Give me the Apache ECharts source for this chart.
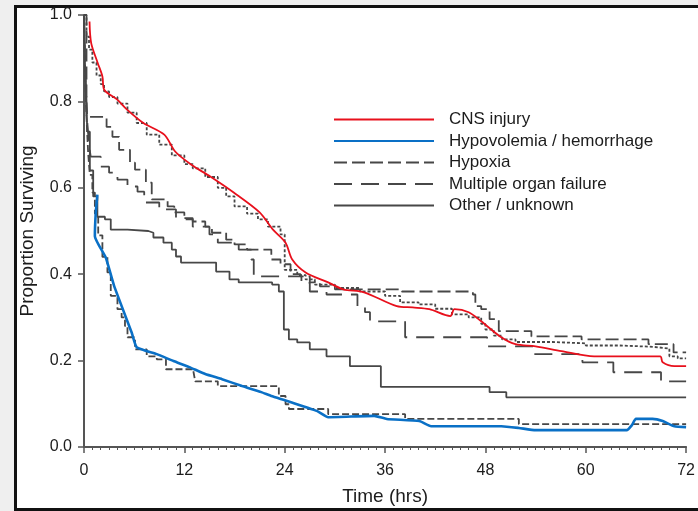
<!DOCTYPE html>
<html>
<head>
<meta charset="utf-8">
<script src="https://cdn.jsdelivr.net/npm/echarts@6/dist/echarts.min.js"></script>
<style>
html, body { margin: 0; padding: 0; background: #efefef; width: 698px; height: 511px; overflow: hidden; }
#frame { position: absolute; left: 14px; top: 5px; width: 720px; height: 500px; border: 3px solid #111; background: #fff; }
#chart { position: absolute; left: 0; top: 0; width: 698px; height: 511px; }
</style>
</head>
<body>
<div id="frame"></div>
<div id="chart"></div>
<script>
// Kaplan-Meier curves: [hours, proportion surviving]
const cnsInjury = [
  [0, 1], [0.3, 0.95], [0.6, 0.92], [1, 0.89], [1.5, 0.86], [2, 0.84], [2.4, 0.823], [3, 0.81],
  [4, 0.795], [5.2, 0.774], [6.3, 0.75], [7.5, 0.723], [9, 0.7], [10.5, 0.675], [12, 0.655],
  [13, 0.645], [14.5, 0.625], [16, 0.6], [17, 0.58], [18, 0.557], [19.5, 0.54], [20.8, 0.527],
  [22, 0.51], [23.5, 0.492], [24, 0.41], [25.5, 0.398], [26.5, 0.388], [27.6, 0.376], [30, 0.368],
  [33, 0.36], [36, 0.35], [37.8, 0.335], [40, 0.33], [42, 0.32], [44, 0.307], [46, 0.3],
  [47.5, 0.285], [48, 0.272], [49, 0.258], [50, 0.249], [51.6, 0.243], [56, 0.24], [60, 0.235],
  [64, 0.232], [68, 0.228], [70, 0.21], [71, 0.205], [72, 0.205]
];
const hypovolemia = [
  [0, 1], [0.1, 0.9], [0.2, 0.82], [0.35, 0.74], [0.5, 0.68], [0.7, 0.63], [1, 0.589], [1.3, 0.54],
  [1.7, 0.49], [2.2, 0.44], [2.8, 0.404], [3.2, 0.35], [4, 0.319], [4.5, 0.3], [4.9, 0.28],
  [5.2, 0.254], [6.1, 0.226], [7.5, 0.21], [8.7, 0.203], [9.8, 0.18], [13.1, 0.173], [13.3, 0.152],
  [16, 0.141], [23.3, 0.118], [24.1, 0.099], [24.5, 0.088], [29.2, 0.076], [38.4, 0.065],
  [52, 0.053], [72, 0.053]
];
const hypoxia = [
  [0, 1], [0.3, 0.764], [2.7, 0.741], [3.4, 0.718], [4.2, 0.688], [5.5, 0.658], [6.1, 0.642],
  [7.4, 0.612], [8.1, 0.573], [10, 0.557], [10.8, 0.543], [12, 0.527], [13, 0.522], [14.5, 0.51],
  [15.3, 0.496], [17, 0.48], [18, 0.469], [19.5, 0.457], [22.4, 0.434], [23.5, 0.423], [24.7, 0.4],
  [25.9, 0.395], [27, 0.381], [28.2, 0.372], [30, 0.365], [38, 0.36], [46.5, 0.353], [46.8, 0.326],
  [47.5, 0.319], [48.5, 0.296], [49.6, 0.268], [53.5, 0.256], [59.5, 0.249], [67.5, 0.238],
  [70.5, 0.219], [72, 0.219]
];
const organFailure = [
  [0, 1], [0.2, 0.85], [0.4, 0.75], [0.6, 0.7], [0.8, 0.672], [2, 0.649], [3, 0.635], [4, 0.619],
  [5.2, 0.603], [6.4, 0.591], [7.2, 0.566], [9, 0.55], [11, 0.53], [13, 0.51], [15, 0.492],
  [16, 0.473], [18.5, 0.457], [20, 0.434], [20.3, 0.395], [26, 0.38], [27, 0.36], [29, 0.353],
  [32.7, 0.326], [33.6, 0.312], [34.2, 0.291], [38.4, 0.254], [48.2, 0.233], [53.8, 0.215],
  [59.6, 0.196], [63.3, 0.173], [69, 0.152], [72, 0.152]
];
const otherUnknown = [
  [0, 1], [0.1, 0.9], [0.25, 0.8], [0.4, 0.73], [0.7, 0.64], [1.1, 0.58], [1.6, 0.533], [2.5, 0.527],
  [3.2, 0.503], [5.2, 0.5], [7.7, 0.496], [8.3, 0.485], [9.5, 0.473], [10.5, 0.457], [11, 0.441],
  [11.6, 0.427], [15.8, 0.406], [17.4, 0.388], [18.5, 0.381], [22.5, 0.376], [23.3, 0.36],
  [23.9, 0.272], [24.5, 0.249], [25.5, 0.242], [27, 0.226], [29, 0.21], [31.8, 0.187],
  [35.5, 0.139], [48.5, 0.127], [50.5, 0.115], [72, 0.115]
];
// hand-drawn overlays on top of two of the curves
const redTrace = [
  [0.66, 0.985], [0.86, 0.935], [1.64, 0.889], [2.2, 0.858], [2.42, 0.827], [3.98, 0.804],
  [5.15, 0.781], [7.1, 0.75], [9.6, 0.723], [10.9, 0.684], [12.8, 0.654], [15.1, 0.626],
  [17.9, 0.589], [21, 0.543], [22.6, 0.503], [24.1, 0.473], [24.9, 0.434], [26.5, 0.404],
  [29.2, 0.381], [31, 0.365], [33.5, 0.358], [37.4, 0.326], [39.3, 0.323], [41.3, 0.319],
  [43.8, 0.303], [44.3, 0.319], [46, 0.312], [47.5, 0.291], [49.9, 0.254], [51.6, 0.238],
  [54, 0.233], [57.1, 0.222], [61, 0.21], [68.9, 0.21], [69.2, 0.196], [70.6, 0.187], [72, 0.187]
];
const blueTrace = [
  [1.6, 0.584], [1.4, 0.54], [1.3, 0.488], [2.61, 0.438], [3.6, 0.373], [5.7, 0.265],
  [6.3, 0.231], [8.7, 0.215], [10.7, 0.199], [12.6, 0.185], [14.5, 0.169], [16.5, 0.157],
  [18.9, 0.141], [21.2, 0.127], [22.4, 0.118], [24.4, 0.106], [27.9, 0.083], [29.2, 0.069],
  [34.7, 0.072], [36.2, 0.065], [40.1, 0.06], [41.5, 0.048], [49.9, 0.048], [52, 0.044],
  [54, 0.039], [64.9, 0.039], [65.5, 0.05], [66, 0.065], [68, 0.065], [69.2, 0.06],
  [70.6, 0.048], [72, 0.046]
];
const legendNames = ['CNS injury', 'Hypovolemia / hemorrhage', 'Hypoxia', 'Multiple organ failure', 'Other / unknown'];

const FONT = '"Liberation Sans", Arial, Helvetica, sans-serif';
const GREY = '#474747';

function kmLine(name, data, dash) {
  return {
    name: name, type: 'line', data: data, step: 'end', symbol: 'none', silent: true,
    lineStyle: { color: GREY, width: 1.8, type: dash }, z: 2
  };
}

function overlay(name, data, color, width, smooth) {
  return {
    name: name, type: 'line', data: data, symbol: 'none', silent: true, smooth: smooth,
    lineStyle: { color: color, width: width, type: 'solid' }, z: 5
  };
}

const chart = echarts.init(document.getElementById('chart'));
chart.setOption({
  animation: false,
  backgroundColor: 'transparent',
  textStyle: { fontFamily: FONT },
  grid: { left: 84, top: 15, width: 615, height: 433 },
  legend: {
    orient: 'vertical', left: 328, top: 106,
    itemWidth: 100, itemHeight: 14, itemGap: 4.5,
    data: legendNames,
    itemStyle: { opacity: 0 },
    textStyle: { fontSize: 17, color: '#1c1c1c', fontFamily: FONT, lineHeight: 17, padding: [0, 0, 0, 10] },
    selectedMode: false
  },
  xAxis: {
    type: 'value', min: 0, max: 72, interval: 12,
    name: 'Time (hrs)', nameLocation: 'middle', nameGap: 40,
    nameTextStyle: { fontSize: 19, color: '#1c1c1c' },
    axisLine: { lineStyle: { color: '#555', width: 2 } },
    axisTick: { length: 6, lineStyle: { color: '#555', width: 1.5 } },
    minorTick: { show: true, splitNumber: 12, length: 3, lineStyle: { color: '#555', width: 1 } },
    axisLabel: { fontSize: 16, color: '#1c1c1c', margin: 16 },
    splitLine: { show: false }
  },
  yAxis: {
    type: 'value', min: 0, max: 1, interval: 0.2,
    name: 'Proportion Surviving', nameLocation: 'middle', nameGap: 47,
    nameTextStyle: { fontSize: 19, color: '#1c1c1c' },
    axisLine: { show: true, lineStyle: { color: '#555', width: 2 } },
    axisTick: { show: true, length: 6, lineStyle: { color: '#555', width: 1.5 } },
    axisLabel: { fontSize: 16, color: '#1c1c1c', margin: 12, formatter: function (v) { return v.toFixed(1); } },
    splitLine: { show: false }
  },
  series: [
    overlay('CNS injury', redTrace, '#e8101c', 1.8, 0.3),
    overlay('Hypovolemia / hemorrhage', blueTrace, '#0a70c6', 2.6, 0.15),
    kmLine('CNS injury', cnsInjury, [3, 2]),
    kmLine('Hypovolemia / hemorrhage', hypovolemia, [7, 3]),
    kmLine('Hypoxia', hypoxia, [13, 5]),
    kmLine('Multiple organ failure', organFailure, [18, 9]),
    kmLine('Other / unknown', otherUnknown, 'solid')
  ]
});
</script>
</body>
</html>
